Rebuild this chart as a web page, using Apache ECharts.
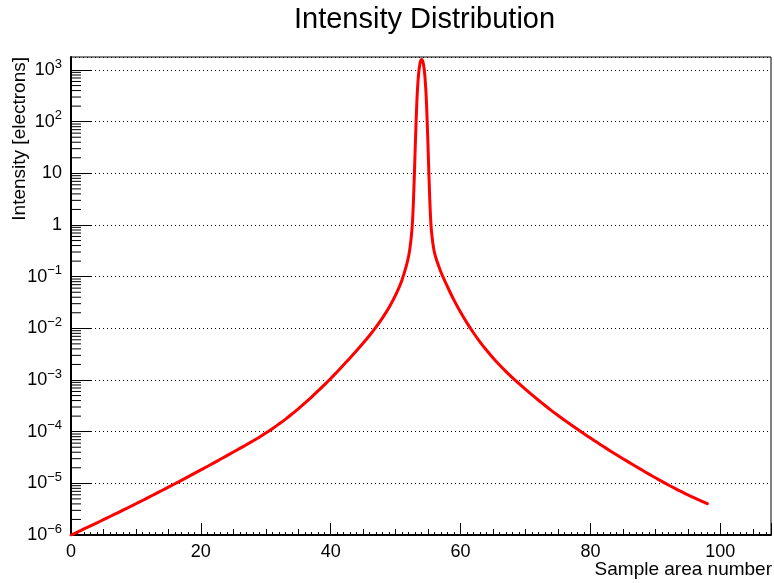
<!DOCTYPE html>
<html>
<head>
<meta charset="utf-8">
<title>Intensity Distribution</title>
<script src="https://cdn.jsdelivr.net/npm/echarts@6/dist/echarts.min.js"></script>
<style>
  html, body { margin: 0; padding: 0; background: #fff; }
  #chart { width: 774px; height: 583px; }
</style>
</head>
<body>
<div id="chart"></div>
<script>
// Sample positions (finer steps across the narrow peak)
const sampleArea = [
  0, 1, 2, 3, 4, 5, 6, 7, 8, 9,
  10, 11, 12, 13, 14, 15, 16, 17, 18, 19,
  20, 21, 22, 23, 24, 25, 26, 27, 28, 29,
  30, 31, 32, 33, 34, 35, 36, 37, 38, 39,
  40, 41, 42, 43, 44, 45, 46, 47, 48, 49,
  50, 51, 52, 52.5, 52.75, 53, 53.25, 53.5, 53.75, 54,
  54.25, 54.5, 54.75, 55, 55.25, 55.5, 56, 57, 58, 59,
  60, 61, 62, 63, 64, 65, 66, 67, 68, 69,
  70, 71, 72, 73, 74, 75, 76, 77, 78, 79,
  80, 81, 82, 83, 84, 85, 86, 87, 88, 89,
  90, 91, 92, 93, 94, 95, 96, 97, 98
];

// Intensity in electrons at each sample position
const intensity = [
  1.00e-6, 1.14e-6, 1.31e-6, 1.50e-6, 1.72e-6, 1.98e-6, 2.28e-6, 2.62e-6, 3.02e-6, 3.48e-6,
  4.03e-6, 4.66e-6, 5.40e-6, 6.25e-6, 7.26e-6, 8.43e-6, 9.82e-6, 1.14e-5, 1.33e-5, 1.56e-5,
  1.82e-5, 2.12e-5, 2.49e-5, 2.92e-5, 3.43e-5, 4.03e-5, 4.74e-5, 5.58e-5, 6.59e-5, 7.83e-5,
  9.38e-5, 1.14e-4, 1.40e-4, 1.73e-4, 2.18e-4, 2.77e-4, 3.56e-4, 4.62e-4, 6.07e-4, 8.04e-4,
  1.07e-3, 1.45e-3, 1.97e-3, 2.69e-3, 3.72e-3, 5.19e-3, 7.36e-3, 1.07e-2, 1.61e-2, 2.55e-2,
  4.43e-2, 8.83e-2, 0.251, 0.794, 3.16, 28.2, 224, 759, 1349, 1600,
  1349, 759, 224, 28.2, 3.16, 0.794, 0.282, 0.120, 6.31e-2, 3.47e-2,
  2.04e-2, 1.26e-2, 8.13e-3, 5.43e-3, 3.76e-3, 2.67e-3, 1.95e-3, 1.45e-3, 1.10e-3, 8.47e-4,
  6.58e-4, 5.14e-4, 4.05e-4, 3.21e-4, 2.56e-4, 2.06e-4, 1.66e-4, 1.36e-4, 1.11e-4, 9.12e-5,
  7.52e-5, 6.21e-5, 5.15e-5, 4.29e-5, 3.58e-5, 3.00e-5, 2.52e-5, 2.12e-5, 1.79e-5, 1.51e-5,
  1.28e-5, 1.09e-5, 9.29e-6, 7.98e-6, 6.89e-6, 5.97e-6, 5.21e-6, 4.57e-6, 4.03e-6
];

// Axis ranges
const xRange = [0, 107.8];
const yRange = [1e-6, 1785];

// Minor log ticks at 2..9 x 10^n inside the y range
const yMinorTicks = [];
for (let e = -6; e <= 3; e++) {
  for (let m = 2; m <= 9; m++) {
    const v = m * Math.pow(10, e);
    if (v < yRange[1]) yMinorTicks.push([xRange[0], v]);
  }
}

const FONT = '"Liberation Sans", Arial, Helvetica, sans-serif';
const MINUS = '\u2212';

function logLabel(value) {
  const e = Math.round(Math.log10(value));
  if (Math.abs(Math.log10(value) - e) > 1e-6) return '';
  if (e === 0) return '{b|1}';
  if (e === 1) return '{b|10}';
  return '{b|10}{s|' + (e < 0 ? MINUS + (-e) : e) + '}';
}

const chart = echarts.init(document.getElementById('chart'), null, { renderer: 'canvas' });

chart.setOption({
  animation: false,
  backgroundColor: '#fff',
  title: {
    text: 'Intensity Distribution',
    left: 289,
    top: 0,
    textStyle: { fontFamily: FONT, fontSize: 29, fontWeight: 'normal', color: '#000' }
  },
  grid: {
    left: 71, top: 57, width: 700, height: 478,
    show: true, borderColor: '#000', borderWidth: 1, backgroundColor: 'transparent'
  },
  xAxis: [
    {
      type: 'value',
      min: xRange[0], max: xRange[1], interval: 20,
      axisLine: { show: true, onZero: false, lineStyle: { color: '#000', width: 2 } },
      axisTick: { show: true, inside: true, length: 12, lineStyle: { color: '#000', width: 1 } },
      minorTick: { show: true, splitNumber: 4, length: 6, lineStyle: { color: '#000', width: 1 } },
      axisLabel: {
        show: true, margin: 8, showMaxLabel: false,
        fontFamily: FONT, fontSize: 18, color: '#000'
      },
      splitLine: { show: false }
    },
    {
      type: 'value',
      min: xRange[0], max: xRange[1], interval: 1,
      position: 'bottom',
      axisLine: { show: false },
      axisTick: { show: true, inside: true, length: 3, lineStyle: { color: '#000', width: 1 } },
      axisLabel: { show: false },
      splitLine: { show: false }
    }
  ],
  yAxis: {
    type: 'log',
    logBase: 10,
    min: yRange[0], max: yRange[1],
    splitNumber: 10,
    axisLine: { show: true, onZero: false, lineStyle: { color: '#000', width: 2 } },
    axisTick: { show: true, inside: true, length: 20, lineStyle: { color: '#000', width: 1 } },
    axisLabel: {
      show: true, margin: 9, showMaxLabel: false,
      formatter: logLabel,
      rich: {
        b: { fontFamily: FONT, fontSize: 18, color: '#000' },
        s: { fontFamily: FONT, fontSize: 13, color: '#000', padding: [0, 0, 12, 0] }
      }
    },
    splitLine: { show: true, lineStyle: { color: '#000', width: 1, type: [1, 3] } }
  },
  graphic: [
    {
      type: 'text', x: 20, y: 57, rotation: Math.PI / 2,
      style: {
        text: 'Intensity [electrons]', font: '19px ' + FONT, fill: '#000',
        align: 'right', verticalAlign: 'middle'
      }
    },
    {
      type: 'text', x: 772, y: 570,
      style: {
        text: 'Sample area number', font: '19px ' + FONT, fill: '#000',
        align: 'right', verticalAlign: 'middle'
      }
    }
  ],
  series: [
    {
      type: 'custom',
      silent: true,
      xAxisIndex: 0, yAxisIndex: 0,
      data: yMinorTicks,
      renderItem: function (params, api) {
        const p = api.coord([api.value(0), api.value(1)]);
        return {
          type: 'line',
          shape: { x1: p[0], y1: p[1], x2: p[0] + 10, y2: p[1] },
          style: { stroke: '#000', lineWidth: 1 }
        };
      },
      z: 1
    },
    {
      type: 'line',
      xAxisIndex: 0, yAxisIndex: 0,
      data: sampleArea.map((x, i) => [x, intensity[i]]),
      showSymbol: false,
      smooth: 0.3,
      clip: true,
      lineStyle: { color: '#ff0000', width: 3, join: 'round', cap: 'round' },
      z: 3
    }
  ]
});
</script>
</body>
</html>
